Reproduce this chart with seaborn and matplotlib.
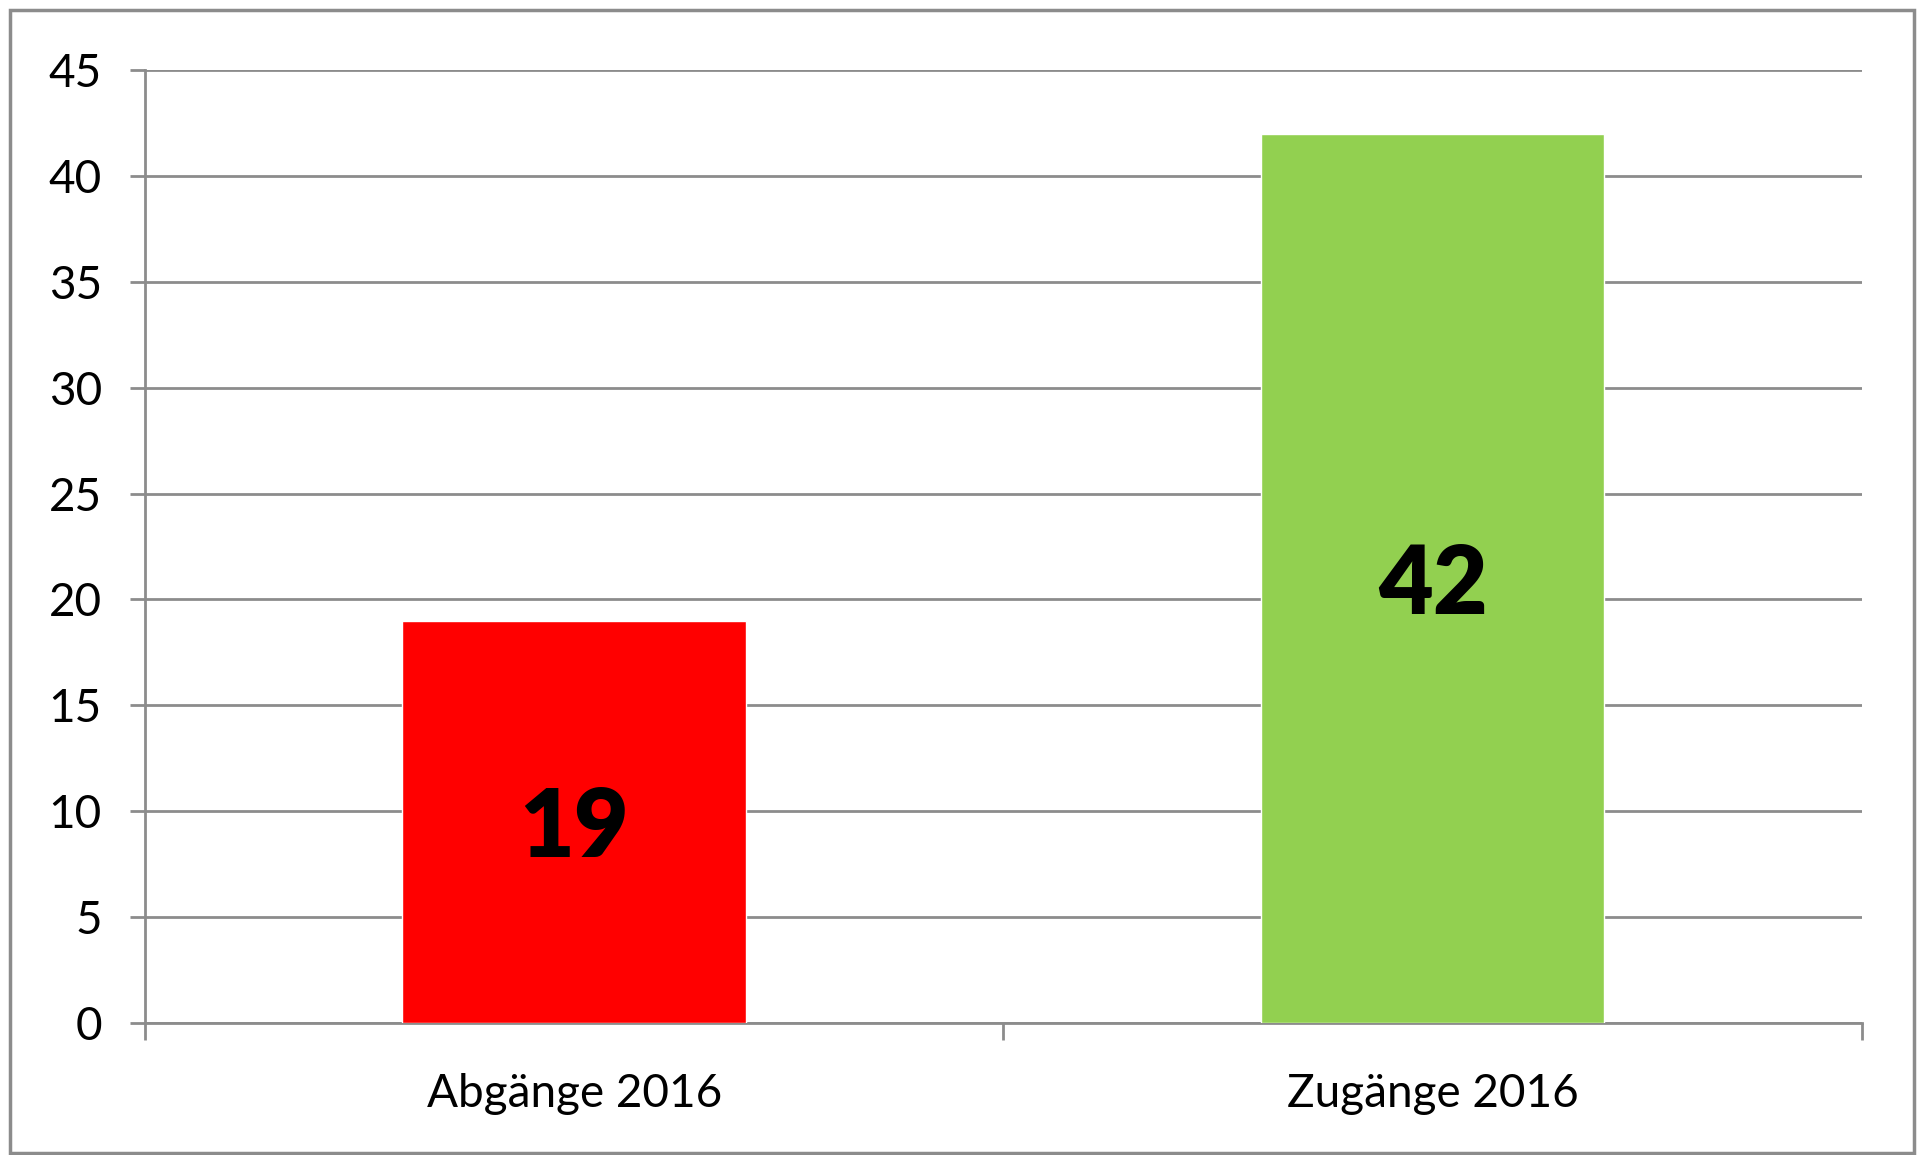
import matplotlib
matplotlib.use("Agg")
import matplotlib.pyplot as plt
import seaborn as sns
import pandas as pd
from matplotlib.patches import Rectangle
from matplotlib.ticker import FixedLocator, MultipleLocator

# data
categories = ["Abgänge 2016", "Zugänge 2016"]
values = [19, 42]
bar_colors = ["#FF0000", "#92D050"]

df = pd.DataFrame({"kategorie": categories, "anzahl": values})

sns.set_style("white")
plt.rcParams["font.family"] = ["Lato", "DejaVu Sans"]

grey = "#8C8C8C"
fig = plt.figure(figsize=(19.17, 11.55), dpi=100)
ax = fig.add_axes([0.0756, 0.1143, 0.8957, 0.8251])

sns.barplot(data=df, x="kategorie", y="anzahl", hue="kategorie",
            palette=bar_colors, width=0.4, legend=False, ax=ax,
            saturation=1, zorder=3)

ax.set_xlim(-0.5, 1.5)
ax.set_ylim(0, 45)
ax.yaxis.set_major_locator(MultipleLocator(5))
ax.grid(axis="y", color=grey, linewidth=2, zorder=0)
ax.set_axisbelow(True)

for side in ["top", "right"]:
    ax.spines[side].set_visible(False)
for side in ["left", "bottom"]:
    ax.spines[side].set_color(grey)
    ax.spines[side].set_linewidth(2)

ax.set_xlabel("")
ax.set_ylabel("")
ax.tick_params(axis="y", length=11, width=2, color=grey, pad=20,
               labelsize=33, labelcolor="black", left=True)
ax.tick_params(axis="x", which="major", length=0, pad=36,
               labelsize=33, labelcolor="black")
ax.xaxis.set_minor_locator(FixedLocator([-0.5, 0.5, 1.5]))
ax.tick_params(axis="x", which="minor", length=12, width=2, color=grey,
               bottom=True)

for i, v in enumerate(values):
    ax.text(i, v / 2, str(v), ha="center", va="center_baseline",
            fontsize=68, fontweight="heavy", color="black", zorder=4)

fig.patches.append(Rectangle((0.005, 0.002), 0.9935, 0.989,
                             transform=fig.transFigure, fill=False,
                             edgecolor=grey, linewidth=2.5))

fig.savefig("out.png", dpi=100)
